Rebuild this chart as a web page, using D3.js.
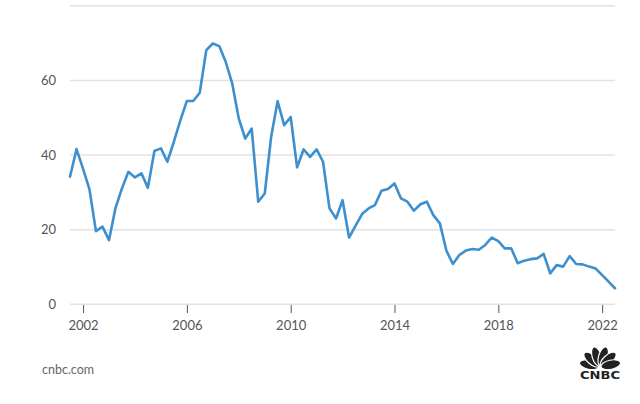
<!DOCTYPE html>
<html>
<head>
<meta charset="utf-8">
<script src="https://cdn.jsdelivr.net/npm/d3@7"></script>
<style>
  html, body { margin: 0; padding: 0; background: #fff; }
  svg { display: block; }
  text { font-family: Lato, "Open Sans", sans-serif; }
</style>
</head>
<body>
<svg id="chart" width="640" height="404"></svg>
<script>
// Quarterly values, 2001 Q3 to 2022 Q3
const startDate = "2001-07-01";
const values = [
  34.2, 41.6, 36.3, 30.8, 19.6, 20.8, 17.2, 25.7, 31.0, 35.5,
  34.0, 35.1, 31.2, 41.1, 41.8, 38.2, 43.5, 49.3, 54.5, 54.5,
  56.7, 68.1, 69.9, 69.2, 65.0, 59.2, 49.8, 44.4, 47.1, 27.5,
  29.7, 44.9, 54.4, 48.0, 50.2, 36.7, 41.5, 39.5, 41.5, 38.2,
  25.7, 23.0, 27.9, 17.9, 21.0, 24.2, 25.7, 26.6, 30.4, 30.9,
  32.4, 28.4, 27.5, 25.1, 26.8, 27.5, 23.9, 21.7, 14.4, 10.8,
  13.2, 14.4, 14.8, 14.6, 15.9, 17.9, 16.9, 15.0, 15.0, 11.0,
  11.7, 12.1, 12.3, 13.5, 8.3, 10.5, 10.1, 12.9, 10.8, 10.7,
  10.1, 9.6, 7.8, 6.1, 4.3
];
const yTicks = [0, 20, 40, 60, 80];
const yTickLabels = ["0", "20", "40", "60", ""];
const xTickYears = [2002, 2006, 2010, 2014, 2018, 2022];

(function () {
const t0 = new Date(startDate + "T00:00:00");
const data = values.map((v, i) => ({ date: d3.timeMonth.offset(t0, i * 3), value: v }));

const svg = d3.select("#chart");
const pLeft = 70, pRight = 615, pTop = 5.8, pBottom = 304.3;

const x = d3.scaleTime()
  .domain(d3.extent(data, d => d.date))
  .range([pLeft, pRight]);
const y = d3.scaleLinear().domain([0, 80]).range([pBottom, pTop]);

// gridlines
svg.append("g")
  .selectAll("line")
  .data(yTicks)
  .join("line")
  .attr("x1", pLeft).attr("x2", pRight)
  .attr("y1", d => y(d)).attr("y2", d => y(d))
  .attr("stroke", "#e2e2e2")
  .attr("stroke-width", 1.5);

// y labels
svg.append("g")
  .selectAll("text")
  .data(yTicks)
  .join("text")
  .attr("x", 56)
  .attr("y", d => y(d))
  .attr("dy", "0.35em")
  .attr("text-anchor", "end")
  .attr("font-size", 13)
  .attr("fill", "#555")
  .text((d, i) => yTickLabels[i]);

// x axis ticks and labels
const xAxis = d3.axisBottom(x)
  .tickValues(xTickYears.map(yr => new Date(yr, 0, 1)))
  .tickFormat(d3.timeFormat("%Y"))
  .tickSize(8)
  .tickPadding(8);

const gx = svg.append("g")
  .attr("transform", `translate(0,${pBottom + 0.7})`)
  .call(xAxis);
gx.select(".domain").remove();
gx.selectAll(".tick line").attr("stroke", "#555").attr("stroke-width", 1);
gx.selectAll(".tick text")
  .attr("font-size", 13)
  .attr("fill", "#555")
  .style("font-family", "Lato, 'Open Sans', sans-serif");

// line
const line = d3.line()
  .x(d => x(d.date))
  .y(d => y(d.value));

svg.append("path")
  .datum(data)
  .attr("fill", "none")
  .attr("stroke", "#3d8fce")
  .attr("stroke-width", 2.6)
  .attr("stroke-linejoin", "round")
  .attr("stroke-linecap", "round")
  .attr("d", line);

// source
svg.append("text")
  .attr("x", 42)
  .attr("y", 374)
  .attr("font-size", 12.5)
  .attr("fill", "#666")
  .text("cnbc.com");

// CNBC logo
const logo = svg.append("g").attr("transform", "translate(600,367)");
const angles = [-78, -48, -17, 17, 48, 78];
angles.forEach(a => {
  logo.append("ellipse")
    .attr("cx", 0).attr("cy", -10)
    .attr("rx", 4.6).attr("ry", 10)
    .attr("fill", "#222")
    .attr("stroke", "#fff")
    .attr("stroke-width", 1.2)
    .attr("transform", `rotate(${a}) translate(0,-1)`);
});
logo.append("text")
  .attr("x", 0).attr("y", 12)
  .attr("text-anchor", "middle")
  .attr("font-size", 11)
  .attr("font-weight", 900)
  .attr("fill", "#222")
  .style("font-family", "'DejaVu Sans', sans-serif")
  .attr("textLength", 40)
  .attr("lengthAdjust", "spacingAndGlyphs")
  .text("CNBC");
})();
</script>
</body>
</html>
